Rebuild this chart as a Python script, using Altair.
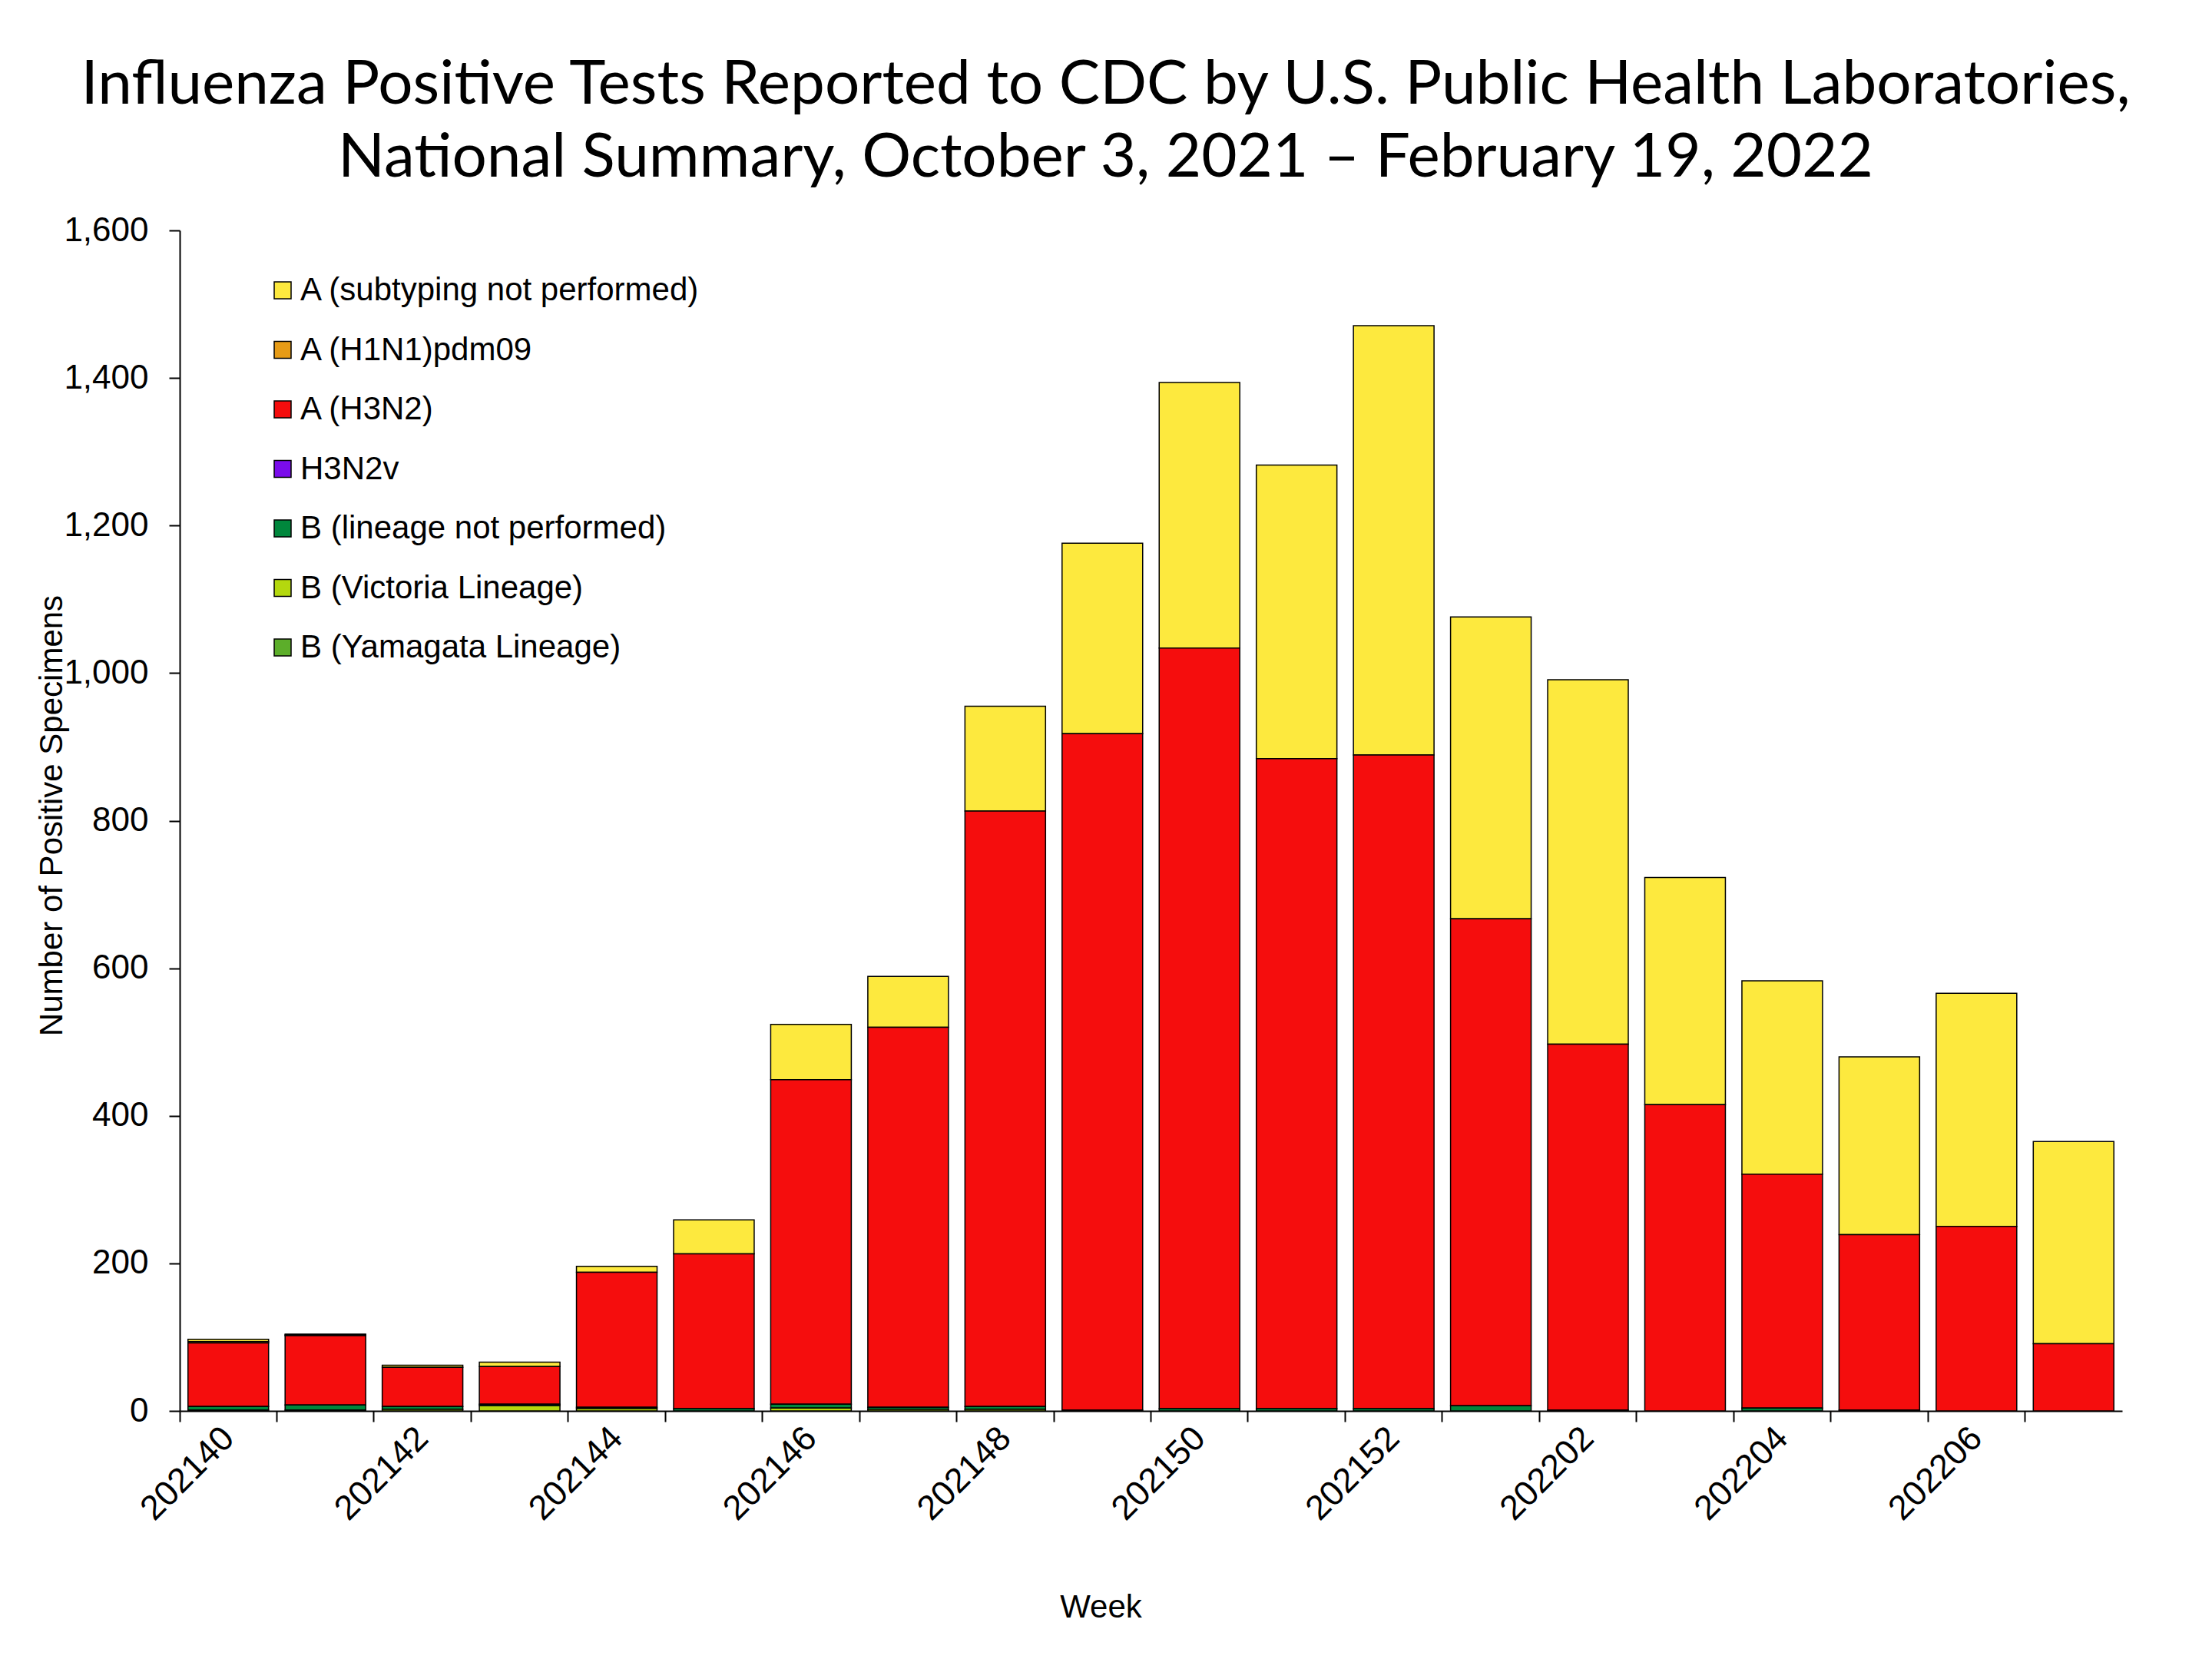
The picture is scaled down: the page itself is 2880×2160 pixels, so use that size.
import altair as alt
import pandas as pd

weeks = ["202140", "202141", "202142", "202143", "202144", "202145", "202146",
         "202147", "202148", "202149", "202150", "202151", "202152",
         "202201", "202202", "202203", "202204", "202205", "202206", "202207"]

a_subtyping_not_performed = [3, 1, 3, 6, 8, 46, 75, 69, 142, 258, 360, 398, 582,
                             409, 494, 308, 262, 241, 316, 274]
a_h1n1pdm09 = [2, 1, 0, 0, 0, 0, 0, 0, 0, 0, 0, 0, 0, 0, 0, 0, 0, 0, 0, 0]
a_h3n2 = [86, 94, 53, 51, 183, 210, 440, 515, 807, 917, 1031, 881, 886,
          660, 496, 415, 317, 238, 250, 91]
h3n2v = [0, 0, 0, 0, 0, 0, 0, 0, 0, 0, 0, 0, 0, 0, 0, 0, 0, 0, 0, 0]
b_lineage_not_performed = [5, 7, 4, 2, 2, 3, 5, 3, 4, 1, 3, 3, 3, 7, 1, 0, 4, 1, 0, 0]
b_victoria = [1, 1, 2, 7, 3, 0, 4, 2, 2, 0, 0, 0, 0, 0, 0, 0, 0, 0, 0, 0]
b_yamagata = [0, 0, 0, 0, 0, 0, 0, 0, 0, 0, 0, 0, 0, 0, 0, 0, 0, 0, 0, 0]

series_names = ["A (subtyping not performed)", "A (H1N1)pdm09", "A (H3N2)", "H3N2v",
                "B (lineage not performed)", "B (Victoria Lineage)", "B (Yamagata Lineage)"]
series_values = [a_subtyping_not_performed, a_h1n1pdm09, a_h3n2, h3n2v,
                 b_lineage_not_performed, b_victoria, b_yamagata]
series_colors = ["#FDE93E", "#E69B16", "#F50D0D", "#7A0CEB", "#00873C", "#B4D80E", "#5CAE2A"]

title_lines = ["Influenza Positive Tests Reported to CDC by U.S. Public Health Laboratories,",
               "National Summary, October 3, 2021 \u2013 February 19, 2022"]

rows = []
n = len(series_names)
for si, (name, vals) in enumerate(zip(series_names, series_values)):
    for w, v in zip(weeks, vals):
        if v > 0:
            rows.append({"week": w, "type": name, "count": v, "stack": n - 1 - si})
df = pd.DataFrame(rows)

W = 2529
H = 1537

chart = alt.Chart(df).mark_bar(
    stroke="black", strokeWidth=1.5, width=alt.RelativeBandSize(0.83)
).encode(
    x=alt.X("week:N", sort=weeks,
            scale=alt.Scale(domain=weeks, paddingInner=0, paddingOuter=0),
            axis=alt.Axis(
                title="Week", titleFont="Liberation Sans", titleFontSize=42,
                titleFontWeight="normal", titleColor="black",
                titleX=1199, titleY=255, titleAlign="center", titleBaseline="middle",
                labelFont="Liberation Sans", labelFontSize=45, labelColor="black",
                labelAngle=-45, labelAlign="right", labelBaseline="middle",
                labelPadding=14, labelOverlap=False,
                labelExpr="parseInt(datum.value) % 2 == 0 ? datum.value : ''",
                bandPosition=0, ticks=True, tickSize=14, tickWidth=2, tickColor="black",
                domainColor="black", domainWidth=2, grid=False)),
    y=alt.Y("count:Q", stack="zero",
            scale=alt.Scale(domain=[0, 1600], nice=False),
            axis=alt.Axis(
                title="Number of Positive Specimens", titleFont="Liberation Sans",
                titleFontSize=42, titleFontWeight="normal", titleColor="black",
                titleX=-167, titleY=H / 2 - 7, titleAlign="center", titleBaseline="middle",
                titleAngle=270,
                values=list(range(0, 1601, 200)), format=",.0f",
                labelFont="Liberation Sans", labelFontSize=44, labelColor="black",
                labelPadding=27, tickSize=14, tickWidth=2, tickColor="black",
                domainColor="black", domainWidth=2, grid=False)),
    color=alt.Color("type:N",
                    scale=alt.Scale(domain=series_names, range=series_colors),
                    legend=alt.Legend(
                        title=None, orient="none", legendX=113, legendY=57,
                        labelFont="Liberation Sans", labelFontSize=42, labelColor="black",
                        symbolType="square", symbolSize=484, symbolStrokeColor="black",
                        symbolStrokeWidth=1.5, symbolOpacity=1, rowPadding=35.5,
                        labelOffset=2, padding=0, labelLimit=0)),
    order=alt.Order("stack:Q", sort="ascending"),
).properties(
    width=W, height=H,
    title=alt.TitleParams(text=title_lines, font="Lato", fontSize=80,
                          fontWeight="normal", color="black", anchor="middle",
                          dx=-59, lineHeight=95, offset=31),
    autosize=alt.AutoSizeParams(type="none"),
    padding={"left": 226, "top": 292, "right": 109, "bottom": 315},
    background="white",
).configure_view(stroke=None)

chart.save("out.html", embed_options={"renderer": "svg", "actions": False})
